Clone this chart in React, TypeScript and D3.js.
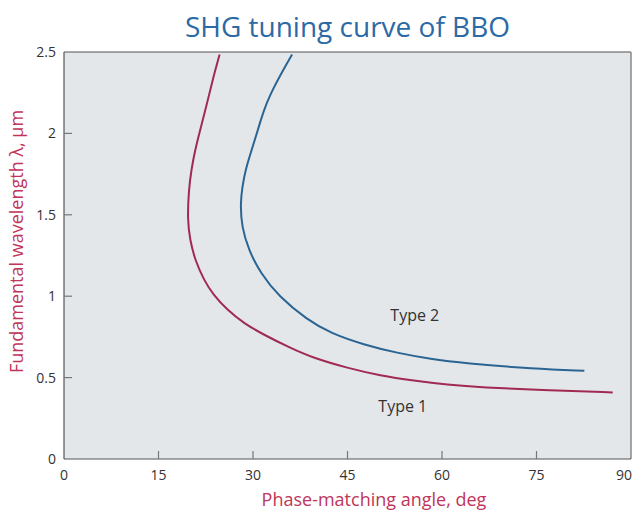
import React from "react";
import * as d3 from "d3";

// phase-matching angle (deg) vs fundamental wavelength (um)
const type1Angle = [24.7, 23.7, 22.7, 21.6, 20.8, 20.2, 19.8, 19.6, 20.0, 20.8, 22.2, 23.7, 25.9, 28.5, 31.7, 35.9, 39.6, 45.0, 50.2, 55.5, 60.9, 66.1, 77.3, 87.1];
const type1Lambda = [2.485, 2.346, 2.183, 2.019, 1.896, 1.774, 1.651, 1.468, 1.345, 1.222, 1.1, 1.008, 0.916, 0.835, 0.763, 0.683, 0.62, 0.559, 0.512, 0.481, 0.456, 0.44, 0.422, 0.409];

const type2Angle = [36.2, 34.3, 32.8, 31.7, 30.6, 29.6, 28.8, 28.3, 28.0, 28.2, 29.3, 31.2, 34.1, 38.6, 42.3, 47.6, 52.9, 58.2, 63.5, 74.6, 82.6];
const type2Lambda = [2.485, 2.356, 2.244, 2.142, 1.999, 1.876, 1.774, 1.672, 1.57, 1.427, 1.284, 1.141, 0.998, 0.855, 0.773, 0.702, 0.651, 0.614, 0.589, 0.553, 0.542];

const xTicks = [0, 15, 30, 45, 60, 75, 90];
const yTicks = [0, 0.5, 1, 1.5, 2, 2.5];

const width = 633;
const height = 515;
const margin = { top: 52, right: 2, bottom: 56, left: 64 };

const colors = {
  bg: "#e4e7ea",
  type1: "#a02a52",
  type2: "#2a6492",
  title: "#2c6aa5",
  label: "#c0355a",
  text: "#333333",
  axis: "#555555"
};

const font = "'Open Sans', 'Noto Sans', sans-serif";

export default function App() {
  const xScale = d3
    .scaleLinear()
    .domain([0, 90])
    .range([margin.left, width - margin.right]);

  const yScale = d3
    .scaleLinear()
    .domain([0, 2.5])
    .range([height - margin.bottom, margin.top]);

  // basis spline smooths out reading noise in the points
  const line = d3
    .line<[number, number]>()
    .x(d => xScale(d[0]))
    .y(d => yScale(d[1]))
    .curve(d3.curveBasis);

  const t1 = type1Angle.map((a, i) => [a, type1Lambda[i]] as [number, number]);
  const t2 = type2Angle.map((a, i) => [a, type2Lambda[i]] as [number, number]);

  const x0 = xScale(0);
  const x1 = xScale(90);
  const y0 = yScale(0);
  const y1 = yScale(2.5);

  return (
    <svg
      width={width}
      height={height}
      style={{ position: "absolute", left: 0, top: 0, fontFamily: font }}
    >
      <rect x={0} y={0} width={width} height={height} fill="#fff" />
      <rect x={x0} y={y1} width={x1 - x0} height={y0 - y1} fill={colors.bg} />

      {/* title */}
      <text
        x={(x0 + x1) / 2}
        y={37}
        textAnchor="middle"
        fontSize={28}
        fill={colors.title}
      >
        SHG tuning curve of BBO
      </text>

      {/* frame */}
      <line x1={x0} x2={x1} y1={y1} y2={y1} stroke={colors.axis} strokeWidth={1.2} />
      <line x1={x1} x2={x1} y1={y1} y2={y0} stroke="#888" strokeWidth={1.5} />
      <line x1={x0} x2={x0} y1={y1} y2={y0} stroke={colors.axis} strokeWidth={1.2} />
      <line x1={x0} x2={x1} y1={y0} y2={y0} stroke={colors.axis} strokeWidth={1.2} />

      {/* x ticks */}
      {xTicks.map(t => (
        <g key={"x" + t}>
          {t > 0 && t < 90 && (
            <line
              x1={xScale(t)}
              x2={xScale(t)}
              y1={y0}
              y2={y0 - 8}
              stroke="#777"
              strokeWidth={1.2}
            />
          )}
          <text
            x={t === 90 ? width - 1 : xScale(t)}
            y={y0 + 21}
            textAnchor={t === 90 ? "end" : "middle"}
            fontSize={14}
            fill={colors.text}
          >
            {t}
          </text>
        </g>
      ))}

      {/* y ticks */}
      {yTicks.map(t => (
        <g key={"y" + t}>
          {t > 0 && t < 2.5 && (
            <line
              x1={x0}
              x2={x0 + 8}
              y1={yScale(t)}
              y2={yScale(t)}
              stroke="#777"
              strokeWidth={1.2}
            />
          )}
          <text
            x={x0 - 8}
            y={yScale(t) + 5}
            textAnchor="end"
            fontSize={14}
            fill={colors.text}
          >
            {t}
          </text>
        </g>
      ))}

      {/* curves */}
      <path d={line(t1) || ""} fill="none" stroke={colors.type1} strokeWidth={2} />
      <path d={line(t2) || ""} fill="none" stroke={colors.type2} strokeWidth={2} />

      <text x={xScale(51.8)} y={yScale(0.85)} fontSize={16} fill={colors.text}>
        Type 2
      </text>
      <text x={xScale(49.9)} y={yScale(0.29)} fontSize={16} fill={colors.text}>
        Type 1
      </text>

      {/* axis labels */}
      <text
        x={374}
        y={506}
        textAnchor="middle"
        fontSize={18}
        fill={colors.label}
      >
        Phase-matching angle, deg
      </text>
      <text
        transform={`translate(23, ${(y0 + y1) / 2 - 14}) rotate(-90)`}
        textAnchor="middle"
        fontSize={18}
        fill={colors.label}
      >
        Fundamental wavelength λ, µm
      </text>
    </svg>
  );
}
